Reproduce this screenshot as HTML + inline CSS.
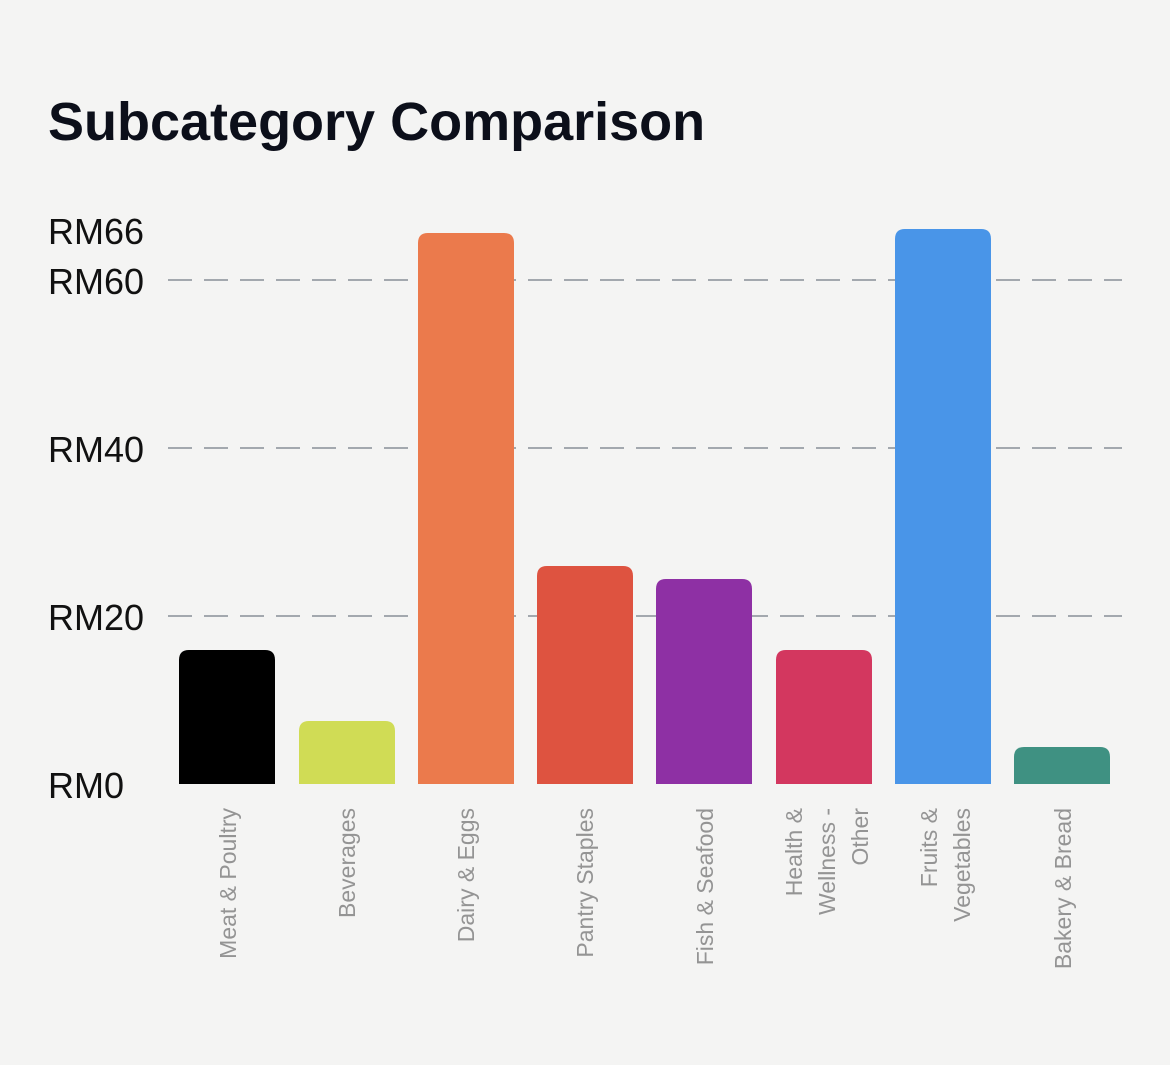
<!DOCTYPE html>
<html>
<head>
<meta charset="utf-8">
<style>
  html, body { margin: 0; padding: 0; background: #f4f4f3; }
  svg { display: block; }
</style>
</head>
<body>
<svg width="1170" height="1065" viewBox="0 0 1170 1065" xmlns="http://www.w3.org/2000/svg">
  <rect x="0" y="0" width="1170" height="1065" fill="#f4f4f3"/>
  <text x="48" y="140" font-family="Liberation Sans, Arial, sans-serif" font-weight="bold" font-size="54" fill="#0c0f1a">Subcategory Comparison</text>

  <!-- gridlines -->
  <g stroke="#a3a8ae" stroke-width="2" stroke-dasharray="24 12">
    <line x1="168" y1="280" x2="1122" y2="280"/>
    <line x1="168" y1="448" x2="1122" y2="448"/>
    <line x1="168" y1="616" x2="1122" y2="616"/>
  </g>

  <!-- y labels -->
  <g font-family="Liberation Sans, Arial, sans-serif" font-size="36" fill="#111111">
    <text x="48" y="244">RM66</text>
    <text x="48" y="294">RM60</text>
    <text x="48" y="462">RM40</text>
    <text x="48" y="630">RM20</text>
    <text x="48" y="798">RM0</text>
  </g>

  <!-- bars -->
  <g>
    <path d="M179,784 V660 Q179,650 189,650 H265 Q275,650 275,660 V784 Z" fill="#000000"/>
    <path d="M299,784 V731 Q299,721 309,721 H385 Q395,721 395,731 V784 Z" fill="#d0dc55"/>
    <path d="M418,784 V243 Q418,233 428,233 H504 Q514,233 514,243 V784 Z" fill="#eb7a4c"/>
    <path d="M537,784 V576 Q537,566 547,566 H623 Q633,566 633,576 V784 Z" fill="#de5340"/>
    <path d="M656,784 V589 Q656,579 666,579 H742 Q752,579 752,589 V784 Z" fill="#8e30a4"/>
    <path d="M776,784 V660 Q776,650 786,650 H862 Q872,650 872,660 V784 Z" fill="#d3375f"/>
    <path d="M895,784 V239 Q895,229 905,229 H981 Q991,229 991,239 V784 Z" fill="#4995e8"/>
    <path d="M1014,784 V757 Q1014,747 1024,747 H1100 Q1110,747 1110,757 V784 Z" fill="#3f9182"/>
  </g>

  <!-- x labels -->
  <g font-family="Liberation Sans, Arial, sans-serif" font-size="23" fill="#949494" text-anchor="end">
    <text transform="translate(236,808) rotate(-90)">Meat &amp; Poultry</text>
    <text transform="translate(355,808) rotate(-90)">Beverages</text>
    <text transform="translate(474,808) rotate(-90)">Dairy &amp; Eggs</text>
    <text transform="translate(593,808) rotate(-90)">Pantry Staples</text>
    <text transform="translate(713,808) rotate(-90)">Fish &amp; Seafood</text>
    <text transform="translate(802,808) rotate(-90)">Health &amp;</text>
    <text transform="translate(835,808) rotate(-90)">Wellness -</text>
    <text transform="translate(868,808) rotate(-90)">Other</text>
    <text transform="translate(937,808) rotate(-90)">Fruits &amp;</text>
    <text transform="translate(970,808) rotate(-90)">Vegetables</text>
    <text transform="translate(1071,808) rotate(-90)">Bakery &amp; Bread</text>
  </g>
</svg>
</body>
</html>
